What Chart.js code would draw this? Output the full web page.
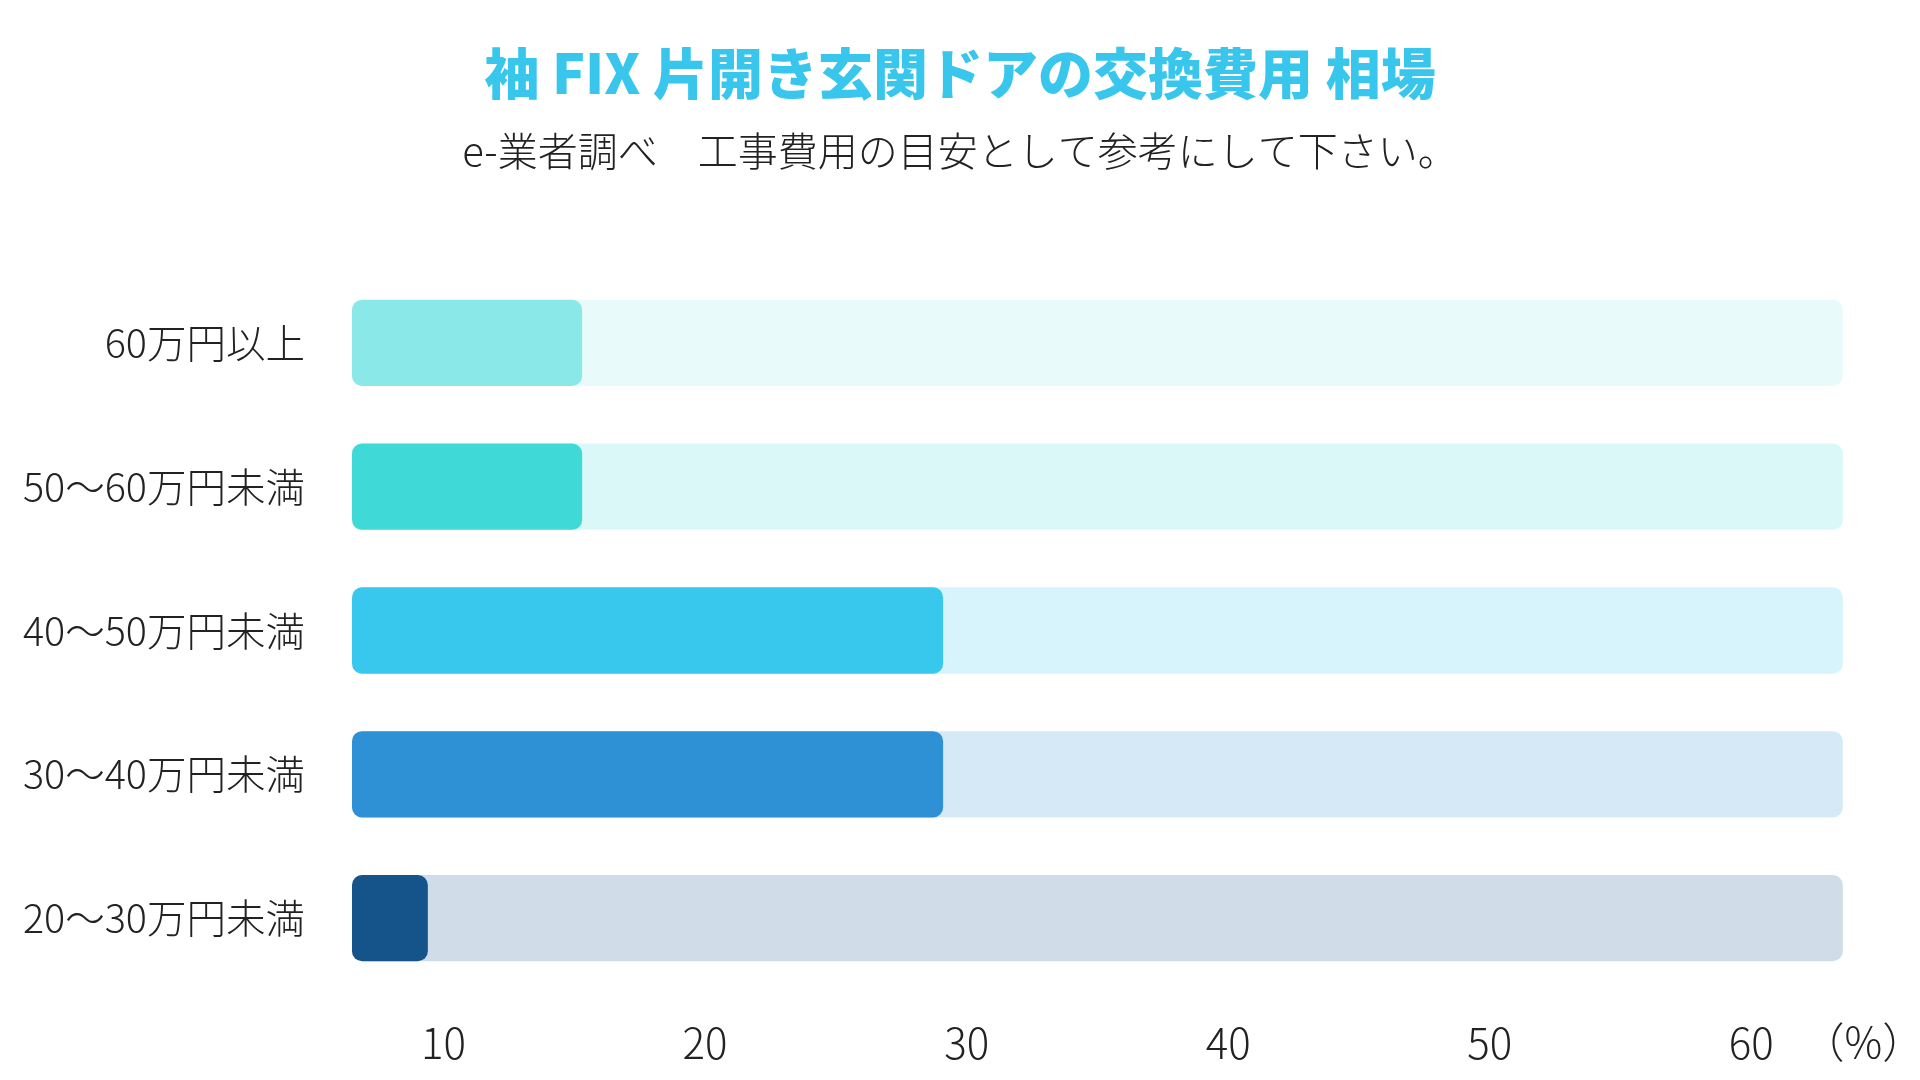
<!DOCTYPE html>
<html lang="ja">
<head>
<meta charset="utf-8">
<script src="https://cdn.jsdelivr.net/npm/chart.js@4.4.1/dist/chart.umd.min.js"></script>
<style>
    html, body { margin: 0; padding: 0; background: #fff; }
    #wrap { width: 1920px; height: 1080px; }
</style>
</head>
<body>
<div id="wrap"><canvas id="grafico-cambio"></canvas></div>
<script>
    const CATEGORIES = ['60万円以上', '50～60万円未満', '40～50万円未満', '30～40万円未満', '20～30万円未満'];
    const VALUES = [15.3, 15.3, 29.1, 29.1, 9.4];
    const TICKS = [10, 20, 30, 40, 50, 60];

    const COLORS = ['#8ae9e8', '#3fdad8', '#38c8ee', '#2e91d6', '#15538b'];
    const X_MIN = 6.5;
    const TRACK_END = 63.5;
    const X_MAX = 66.45;
    const FONT = "'Noto Sans CJK JP', 'Noto Sans', sans-serif";

    function fade(hex, a) {
        const n = parseInt(hex.slice(1), 16);
        return 'rgba(' + (n >> 16) + ',' + ((n >> 8) & 255) + ',' + (n & 255) + ',' + a + ')';
    }

    // "（%）" next to the last tick
    const unitLabel = {
        id: 'unitLabel',
        afterDraw(chart) {
            const x = chart.scales.x;
            const ctx = chart.ctx;
            ctx.save();
            ctx.font = '300 42px ' + FONT;
            ctx.fillStyle = '#222';
            ctx.textAlign = 'center';
            ctx.textBaseline = 'middle';
            ctx.fillText('（%）', x.getPixelForValue(60) + 112, 1042);
            ctx.restore();
        }
    };

    const CHART = document.getElementById('grafico-cambio');
    new Chart(CHART, {
        type: 'bar',
        data: {
            labels: CATEGORIES,
            datasets: [
                {
                    label: '割合',
                    data: VALUES.map(v => [X_MIN, v]),
                    backgroundColor: COLORS,
                    borderRadius: 10,
                    borderSkipped: false,
                    categoryPercentage: 1,
                    barPercentage: 0.6,
                    grouped: false
                },
                {
                    label: '背景',
                    data: VALUES.map(() => [X_MIN, TRACK_END]),
                    backgroundColor: COLORS.map(c => fade(c, 0.2)),
                    borderRadius: 10,
                    borderSkipped: false,
                    categoryPercentage: 1,
                    barPercentage: 0.6,
                    grouped: false
                }
            ]
        },
        options: {
            indexAxis: 'y',
            responsive: true,
            maintainAspectRatio: false,
            animation: false,
            layout: {
                padding: 0
            },
            plugins: {
                legend: { display: false },
                tooltip: { enabled: false },
                title: {
                    display: true,
                    text: '袖 FIX 片開き玄関ドアの交換費用 相場',
                    color: '#38c6ec',
                    font: { family: FONT, size: 55, weight: 900 },
                    padding: { top: 40, bottom: 0 }
                },
                subtitle: {
                    display: true,
                    text: 'e-業者調べ　工事費用の目安として参考にして下さい。',
                    color: '#222',
                    font: { family: FONT, size: 40, weight: 300 },
                    padding: { top: 21, bottom: 96 }
                }
            },
            scales: {
                x: {
                    min: X_MIN,
                    max: X_MAX,
                    grid: { display: false },
                    border: { display: false },
                    afterBuildTicks: s => { s.ticks = TICKS.map(v => ({ value: v })); },
                    afterFit: s => { s.height = 90; },
                    ticks: {
                        color: '#222',
                        padding: 20,
                        font: { family: FONT, size: 42, weight: 300 },
                        maxRotation: 0
                    }
                },
                y: {
                    grid: { display: false },
                    border: { display: false },
                    afterFit: s => { s.width = 352; },
                    ticks: {
                        color: '#222',
                        padding: 39,
                        font: { family: FONT, size: 39.5, weight: 300 }
                    }
                }
            }
        },
        plugins: [unitLabel]
    });
</script>
</body>
</html>
